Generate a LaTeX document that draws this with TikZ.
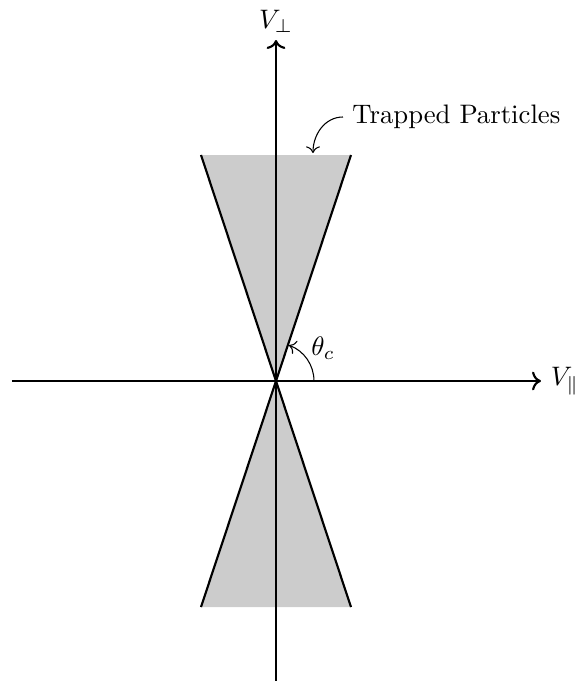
\documentclass[tikz,border=0pt]{standalone}
\usepackage{amsmath,amssymb}
\usepackage{tikz}
\usetikzlibrary{arrows.meta}

\begin{document}
\begin{tikzpicture}[x=0.374pt,y=0.374pt,
     axis/.style={thick,->},
     cone/.style={thick},
     shade/.style={fill=gray!40},
     lab/.style={font=\normalsize}]
    \useasboundingbox (-276,-300) rectangle (299,381);
    \coordinate (O) at (0,0);
    \coordinate (xl) at (-264,0); \coordinate (xr) at (265,0);
    \coordinate (yb) at (0,-300); \coordinate (yt) at (0,341);
    \coordinate (tl) at (-75,226); \coordinate (tr) at (75,226);
    \coordinate (bl) at (-75,-226); \coordinate (br) at (75,-226);
    \coordinate (tip) at (37,228);
    % loss cone
    \fill[shade] (O) -- (tl) -- (tr) -- cycle;
    \fill[shade] (O) -- (bl) -- (br) -- cycle;
    \draw[cone] (tl) -- (br); \draw[cone] (tr) -- (bl);
    % axes
    \draw[axis] (xl) -- (xr) node[lab,right] (vpar) {$V_\parallel$};
    \draw[axis] (yb) -- (yt) node[lab,above,yshift=-1pt] (vperp) {$V_\perp$};
    \draw[->] (38,0) arc[start angle=0,end angle=70,radius=38];
    \node[lab] (theta) at (47,33) {$\theta_c$};
    \node[lab,anchor=west] (trap) at (67,264) {Trapped Particles};
    \draw[->] (trap.west) to[out=180,in=90] (tip);
  \end{tikzpicture}
\end{document}
